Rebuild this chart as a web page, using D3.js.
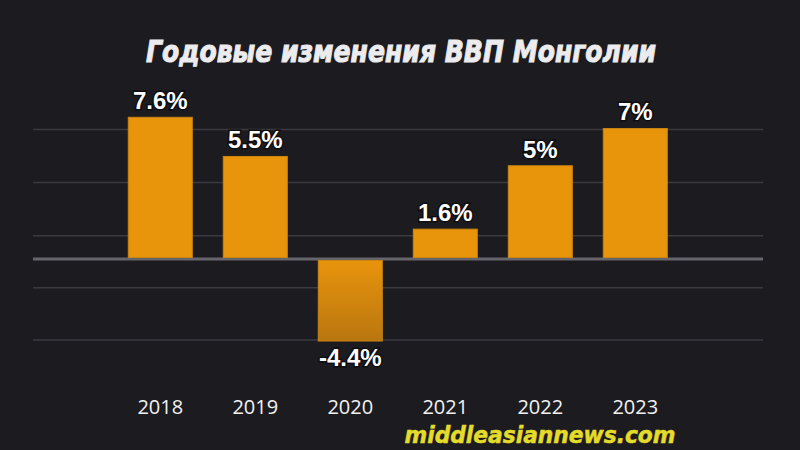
<!DOCTYPE html>
<html>
<head>
<meta charset="utf-8">
<script src="https://cdn.jsdelivr.net/npm/d3@7"></script>
<style>
  html, body { margin: 0; padding: 0; background: #1c1b1f; }
  svg { display: block; }
</style>
</head>
<body>
<svg id="chart" width="800" height="450"></svg>
<script>
const years = ["2018", "2019", "2020", "2021", "2022", "2023"];
const growth = [7.6, 5.5, -4.4, 1.6, 5, 7];
const valueLabels = ["7.6%", "5.5%", "-4.4%", "1.6%", "5%", "7%"];
const gridValues = [6.95, 4.1, 1.25, -1.55, -4.35];
const titleText = "Годовые изменения ВВП Монголии";
const watermarkText = "middleasiannews.com";

const W = 800, H = 450;
const svg = d3.select("#chart");

svg.append("rect").attr("width", W).attr("height", H).attr("fill", "#1c1b1f");

const defs = svg.append("defs");
const negGrad = defs.append("linearGradient").attr("id", "negGrad")
  .attr("x1", 0).attr("y1", 0).attr("x2", 0).attr("y2", 1);
negGrad.append("stop").attr("offset", "0%").attr("stop-color", "#e8940c");
negGrad.append("stop").attr("offset", "100%").attr("stop-color", "#b9760f");

const x = d3.scaleBand().domain(years).range([97.3, 698.3])
  .paddingInner(0.326).paddingOuter(0.326);
const y = d3.scaleLinear().domain([-4.4, 7.6]).range([341, 117.3]);

const gridX0 = 33, gridX1 = 763;

// grid lines
svg.append("g").selectAll("line").data(gridValues).join("line")
  .attr("x1", gridX0).attr("x2", gridX1)
  .attr("y1", d => y(d)).attr("y2", d => y(d))
  .attr("stroke", "#3b3a40").attr("stroke-width", 1.5);

// zero line
svg.append("line")
  .attr("x1", gridX0).attr("x2", gridX1)
  .attr("y1", y(0)).attr("y2", y(0))
  .attr("stroke", "#66656b").attr("stroke-width", 3);

const data = years.map((yr, i) => ({ yr, v: growth[i], label: valueLabels[i] }));

// bars
svg.append("g").selectAll("rect").data(data).join("rect")
  .attr("x", d => x(d.yr))
  .attr("width", x.bandwidth())
  .attr("y", d => d.v >= 0 ? y(d.v) : y(0) + 1.5)
  .attr("height", d => d.v >= 0 ? (y(0) - 1.5 - y(d.v)) : (y(d.v) - y(0) - 1.5))
  .attr("fill", d => d.v >= 0 ? "#e8950b" : "url(#negGrad)")
  .attr("stroke", "#c98510").attr("stroke-width", 1);

// value labels
svg.append("g").selectAll("text").data(data).join("text")
  .attr("x", d => x(d.yr) + x.bandwidth() / 2)
  .attr("y", d => d.v >= 0 ? y(d.v) - 8 : y(d.v) + 25)
  .attr("text-anchor", "middle")
  .attr("font-family", "'Liberation Sans', Arial, sans-serif")
  .attr("font-weight", "bold")
  .attr("font-size", 24)
  .attr("fill", "#ffffff")
  .attr("stroke", "#0e0d10").attr("stroke-width", 3)
  .attr("paint-order", "stroke")
  .text(d => d.label);

// x axis (year labels)
const xAxis = d3.axisBottom(x).tickSize(0).tickPadding(0);
const axG = svg.append("g").attr("transform", "translate(0,399)").call(xAxis);
axG.select(".domain").remove();
axG.selectAll("text")
  .attr("font-family", "'Open Sans', sans-serif")
  .attr("font-size", 20)
  .attr("fill", "#f2f2f2")
  .attr("dy", "0.76em");

// title
const title = svg.append("text")
  .attr("transform", "translate(401,62) scale(1,1.18)")
  .attr("text-anchor", "middle")
  .attr("font-family", "'DejaVu Sans', Verdana, sans-serif")
  .attr("font-weight", "bold")
  .attr("font-style", "italic")
  .attr("font-size", 25)
  .attr("fill", "#ececee")
  .attr("stroke", "#ececee").attr("stroke-width", 0.9)
  .text(titleText);
{
  const w = title.node().getComputedTextLength();
  title.attr("font-size", 25 * 510 / w);
}

// watermark
const wm = svg.append("text")
  .attr("transform", "translate(540,443) scale(1,1.08)")
  .attr("text-anchor", "middle")
  .attr("font-family", "'DejaVu Sans', Verdana, sans-serif")
  .attr("font-weight", "bold")
  .attr("font-style", "italic")
  .attr("font-size", 22)
  .attr("fill", "#e4dc2a")
  .attr("stroke", "#e4dc2a").attr("stroke-width", 0.5)
  .text(watermarkText);
{
  const w = wm.node().getComputedTextLength();
  wm.attr("font-size", 22 * 271 / w);
}
</script>
</body>
</html>
